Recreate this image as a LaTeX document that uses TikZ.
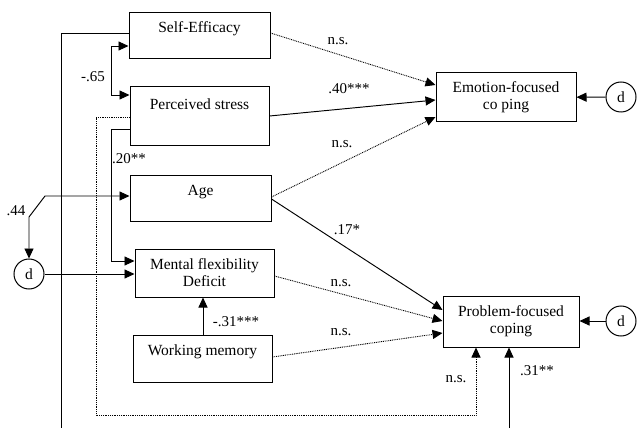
\documentclass[tikz,border=0pt]{standalone}
\usepackage{fontspec}
\setmainfont{Liberation Serif}
\usetikzlibrary{arrows.meta}

\begin{document}
\begin{tikzpicture}[x=1pt,y=-1pt,
  varbox/.style={draw,line width=1pt,inner sep=0pt,align=center,
    font=\fontsize{15.5}{17}\selectfont},
  dist/.style={draw,circle,line width=1pt,minimum size=30pt,inner sep=0pt,
    font=\fontsize{15.5}{17}\selectfont},
  path/.style={line width=0.95pt,-{Triangle[length=10pt,width=9pt]}},
  nspath/.style={line width=0.9pt,dash pattern=on 0.9pt off 0.9pt,
    -{Triangle[length=10pt,width=9pt]}},
  coef/.style={font=\fontsize{15}{17}\selectfont}]
\useasboundingbox (0,0) rectangle (639,430);

\node[varbox,minimum width=141pt,minimum height=46pt] (se) at (199.5,36) {Self-Efficacy\\ \mbox{}};
\node[varbox,minimum width=139pt,minimum height=59pt] (ps) at (199.5,116.5) {Perceived stress\\[8pt] \mbox{}};
\node[varbox,minimum width=141pt,minimum height=46pt] (age) at (200.5,199) {Age\\ \mbox{}};
\node[varbox,minimum width=139pt,minimum height=48pt] (mf) at (204.5,273) {Mental flexibility\\Deficit};
\node[varbox,minimum width=139pt,minimum height=47pt] (wm) at (202.5,358.5) {Working memory\\ \mbox{}};
\node[varbox,minimum width=140pt,minimum height=49pt] (efc) at (506,97.5) {Emotion-focused\\co ping};
\node[varbox,minimum width=136pt,minimum height=51pt] (pfc) at (511,321.5) {Problem-focused\\coping};

\node[dist] (d1) at (621,97) {d};
\node[dist] (d2) at (621,321) {d};
\node[dist] (d3) at (29,274) {d};

\coordinate (seend) at (61,428);
\coordinate (extra) at (509,428);

% correlations and residuals
\draw[line width=0.95pt] (se.west |- 0,33) -- (61,33) -- (seend);
\draw[line width=0.95pt,{Triangle[length=10pt,width=9pt]}-{Triangle[length=10pt,width=9pt]}]
  (se.west |- 0,46) -- (111,46) -- (111,95) -- (ps.west |- 0,95);
\draw[line width=0.95pt,{Triangle[length=10pt,width=9pt]}-{Triangle[length=10pt,width=9pt]}]
  (d3.north) -- (29,217) -- (45,196) -- (age.west |- 0,196);
\draw[path] (d3) -- (mf.west |- d3);
\draw[path] (d1) -- (efc);
\draw[path] (d2) -- (pfc.east |- d2);

% paths
\draw[path] (ps.west |- 0,129) -- (111,129) -- (111,261) -- (mf.west |- 0,261);
\draw[nspath] (ps.west |- 0,117) -- (96,117) -- (96,415) -- (476,415) -- (pfc.south -| 476,0);
\draw[path] (extra) -- (pfc.south -| 509,0);
\draw[path] (wm.north -| 203,0) -- (mf.south -| 203,0);
\draw[nspath] (se.east |- 0,33) -- (efc.west |- 0,85);
\draw[path] (ps.east |- 0,116) -- (efc.west |- 0,100);
\draw[nspath] (age.east |- 0,197) -- (efc.west |- 0,117);
\draw[path] (age.east |- 0,199) -- (pfc.west |- 0,310);
\draw[nspath] (mf.east |- 0,276) -- (pfc.west |- 0,321);
\draw[nspath] (wm.east |- 0,357) -- (pfc.west |- 0,333);

\node[coef] (c65) at (93,77) {-.65};
\node[coef] (c20) at (129,159) {.20**};
\node[coef] (c44) at (16,211) {.44};
\node[coef] (cse) at (338,41) {n.s.};
\node[coef] (c40) at (349,89) {.40***};
\node[coef] (cae) at (342,144) {n.s.};
\node[coef] (c17) at (347,230) {.17*};
\node[coef] (cmf) at (341,283) {n.s.};
\node[coef] (cwm) at (341,332) {n.s.};
\node[coef] (c31) at (236,322) {-.31***};
\node[coef] (cps) at (456,379) {n.s.};
\node[coef] (cex) at (537,371) {.31**};
\end{tikzpicture}
\end{document}
